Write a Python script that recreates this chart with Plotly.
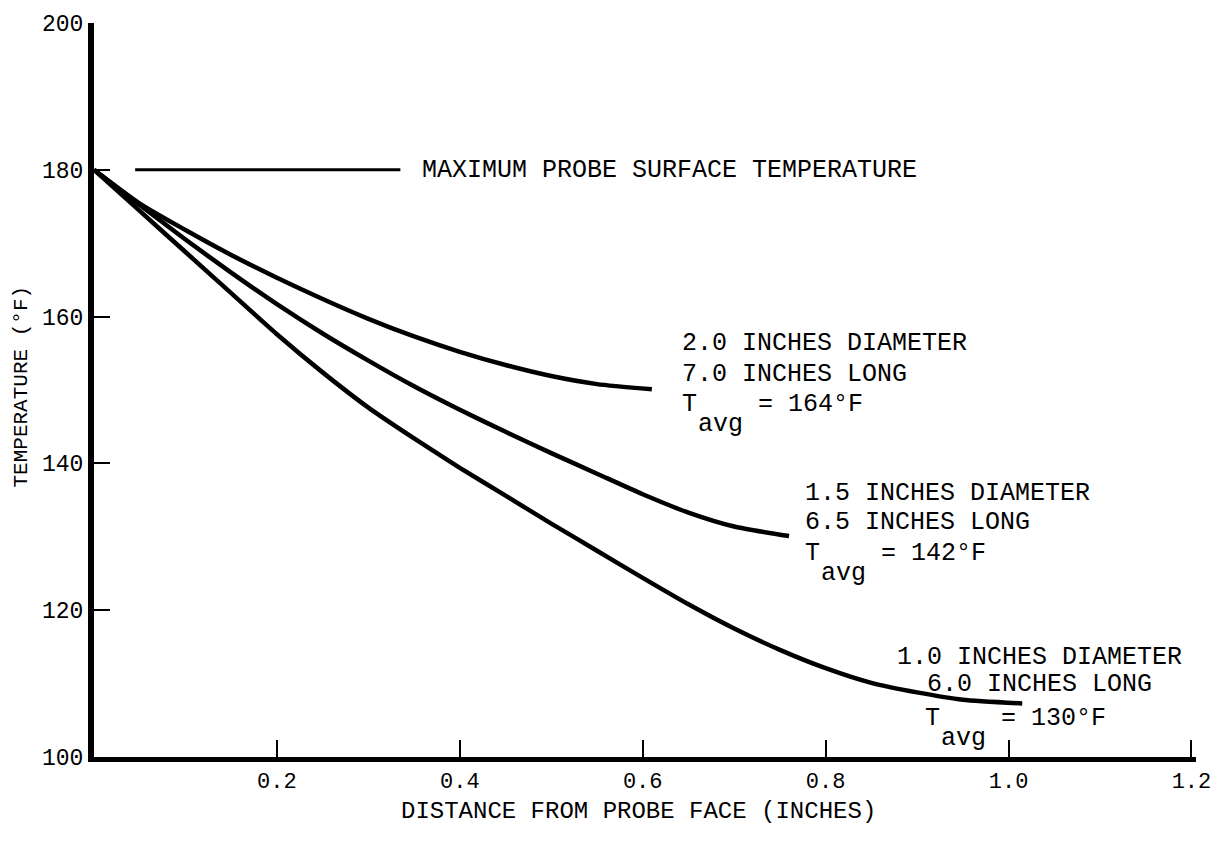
import plotly.graph_objects as go

# Temperature profiles along the probe (distance from face in inches, temperature in °F)
dist_20 = [0.0, 0.05, 0.10, 0.15, 0.20, 0.25, 0.30, 0.35, 0.40, 0.45, 0.50, 0.55, 0.61]
temp_20 = [180.0, 175.4, 171.8, 168.4, 165.3, 162.4, 159.7, 157.3, 155.2, 153.4, 151.9, 150.8, 150.1]

dist_15 = [0.0, 0.05, 0.10, 0.15, 0.20, 0.25, 0.30, 0.35, 0.40, 0.45, 0.50, 0.55, 0.60, 0.65, 0.70, 0.76]
temp_15 = [180.0, 175.2, 170.5, 166.0, 161.7, 157.7, 154.0, 150.5, 147.3, 144.3, 141.4, 138.6, 135.8, 133.3, 131.4, 130.1]

dist_10 = [0.0, 0.05, 0.10, 0.15, 0.20, 0.25, 0.30, 0.35, 0.40, 0.45, 0.50, 0.55, 0.60, 0.65, 0.70, 0.75, 0.80, 0.85, 0.90, 0.95, 1.015]
temp_10 = [180.0, 174.4, 168.8, 163.2, 157.6, 152.4, 147.6, 143.4, 139.4, 135.6, 131.8, 128.1, 124.4, 120.8, 117.5, 114.6, 112.1, 110.1, 108.8, 107.8, 107.3]

max_surface_temp = 180
x_ticks = [0.2, 0.4, 0.6, 0.8, 1.0, 1.2]
x_tick_labels = ["0.2", "0.4", "0.6", "0.8", "1.0", "1.2"]
y_ticks = [100, 120, 140, 160, 180, 200]
y_tick_labels = ["100", "120", "140", "160", "180", "200"]

FONT = "Liberation Mono"
W, H = 1225, 843
L, R, T, B = 94, 1196, 20, 757


def px(xp):
    return (xp - L) / (R - L)


def py(yp):
    return (B - yp) / (B - T)


fig = go.Figure()
for xs, ys in [(dist_20, temp_20), (dist_15, temp_15), (dist_10, temp_10)]:
    fig.add_trace(go.Scatter(
        x=xs, y=ys, mode="lines",
        line=dict(color="black", width=4.5, shape="spline", smoothing=0.6),
        showlegend=False, hoverinfo="skip",
    ))

# leader line for the maximum surface temperature
fig.add_shape(type="line", xref="x", yref="y",
              x0=0.045, x1=0.335, y0=max_surface_temp, y1=max_surface_temp,
              line=dict(color="black", width=3))

annotations = []


def label(text, xp, yp, size=25, anchor="left"):
    annotations.append(dict(
        text=text, xref="paper", yref="paper", x=px(xp), y=py(yp),
        xanchor=anchor, yanchor="middle", showarrow=False,
        font=dict(family=FONT, size=size, color="black"),
    ))


def t_avg(value_text, xp, yp):
    # "T" with an "avg" subscript, followed by "= value"
    label("T", xp, yp)
    label("avg", xp + 16, yp + 20)
    label("= " + value_text, xp + 76, yp)


label("MAXIMUM PROBE SURFACE TEMPERATURE", 420, 168)

label("2.0 INCHES DIAMETER", 680, 342)
label("7.0 INCHES LONG", 680, 373)
t_avg("164°F", 680, 403)

label("1.5 INCHES DIAMETER", 803, 492)
label("6.5 INCHES LONG", 803, 522)
t_avg("142°F", 803, 553)

label("1.0 INCHES DIAMETER", 895, 657)
label("6.0 INCHES LONG", 925, 684)
t_avg("130°F", 923, 718)

# axis titles
label("DISTANCE FROM PROBE FACE (INCHES)", 638, 812, size=24, anchor="center")
annotations.append(dict(
    text="TEMPERATURE (°F)", xref="paper", yref="paper", x=px(22), y=py(385),
    xanchor="center", yanchor="middle", textangle=-90, showarrow=False,
    font=dict(family=FONT, size=21, color="black"),
))

fig.update_layout(
    width=W, height=H,
    margin=dict(l=L, r=W - R, t=T, b=H - B, pad=0),
    paper_bgcolor="white", plot_bgcolor="white",
    annotations=annotations,
    xaxis=dict(
        range=[0, 1.205], showgrid=False, zeroline=False,
        showline=True, linecolor="black", linewidth=5,
        ticks="inside", ticklen=17, tickwidth=2, tickcolor="black",
        tickvals=x_ticks, ticktext=x_tick_labels,
        tickfont=dict(family=FONT, size=22, color="black"),
    ),
    yaxis=dict(
        range=[100, 200], showgrid=False, zeroline=False,
        showline=True, linecolor="black", linewidth=6,
        ticks="inside", ticklen=16, tickwidth=2, tickcolor="black",
        tickvals=y_ticks, ticktext=y_tick_labels,
        tickfont=dict(family=FONT, size=23, color="black"),
    ),
)

fig.write_html("out.html")
